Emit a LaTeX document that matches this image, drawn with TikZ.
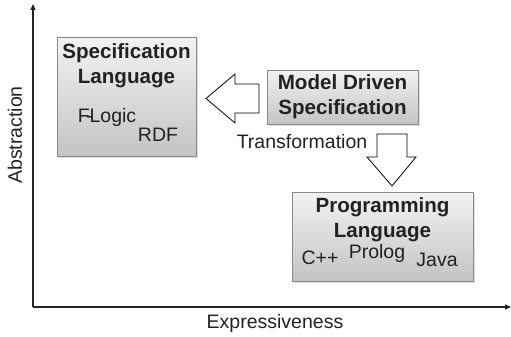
\documentclass[tikz,border=0pt]{standalone}
\usepackage{fontspec}
\setmainfont{Liberation Sans}
\usepackage{tikz}
\usetikzlibrary{arrows.meta, positioning, shadows}
\definecolor{boxborder}{HTML}{8A8A8A}
\definecolor{boxtop}{HTML}{F2F2F2}
\definecolor{boxbottom}{HTML}{C4C4C4}
\definecolor{inktext}{HTML}{222222}
\tikzset{
    box/.style={draw=boxborder, line width=0.9pt, top color=boxtop, bottom color=boxbottom, drop shadow={shadow xshift=1.5pt, shadow yshift=-1.5pt, opacity=0.25}, inner sep=0pt},
    titletext/.style={align=center, text=inktext, font=\fontsize{20.6}{25}\selectfont\bfseries, inner sep=0pt},
    plaintext/.style={text=inktext, font=\fontsize{19.5}{23}\selectfont, inner sep=0pt},
    blockarrow/.style={draw=black, fill=white, line width=0.8pt, line join=miter},
    axis/.style={-{Triangle[length=6pt, width=5pt]}, line width=1.3pt, draw=inktext}
}

\begin{document}
\begin{tikzpicture}[x=1pt, y=-1pt]
    \useasboundingbox (0,0) rectangle (511,337);

    % axes
    \coordinate (origin) at (33,307);
    \coordinate (ytop) at (33,4);
    \coordinate (xend) at (511,307);
    \draw[axis] (origin) -- (ytop);
    \draw[axis] (origin) -- (xend);
    \node[plaintext, rotate=90] (abstraction) at (15,135) {Abstraction};
    \node[plaintext] (expressiveness) at (275,323) {Expressiveness};

    % boxes
    \node[box, minimum width=139pt, minimum height=119pt] (spec) at (126.5,96.5) {};
    \node[box, minimum width=151pt, minimum height=54pt] (mds) at (342.5,97) {};
    \node[box, minimum width=181pt, minimum height=89pt] (prog) at (382.5,236.5) {};

    \node[titletext] (spectitle) at (126.5,65.5) {Specification\\Language};
    \node[plaintext] (flogic) at (107,117) {F\kern-0.17em-\kern-0.17em Logic};
    \node[plaintext] (rdf) at (158,135) {RDF};

    \node[titletext] (mdstitle) at (342.5,97) {Model Driven\\Specification};

    \node[titletext] (progtitle) at (382.5,219.5) {Programming\\Language};
    \node[plaintext] (cpp) at (320,258) {C++};
    \node[plaintext] (prolog) at (377,253) {Prolog};
    \node[plaintext] (java) at (437,260) {Java};

    % transformation arrows
    \draw[blockarrow] (259,84) -- (235,84) -- (235,74) -- (206,98.5) -- (235,123) -- (235,113) -- (259,113) -- cycle;
    \draw[blockarrow] (377,134) -- (407,134) -- (407,157) -- (416,157) -- (392,186) -- (367,157) -- (377,157) -- cycle;
    \node[plaintext] (transformation) at (302,142) {Transformation};
\end{tikzpicture}
\end{document}
